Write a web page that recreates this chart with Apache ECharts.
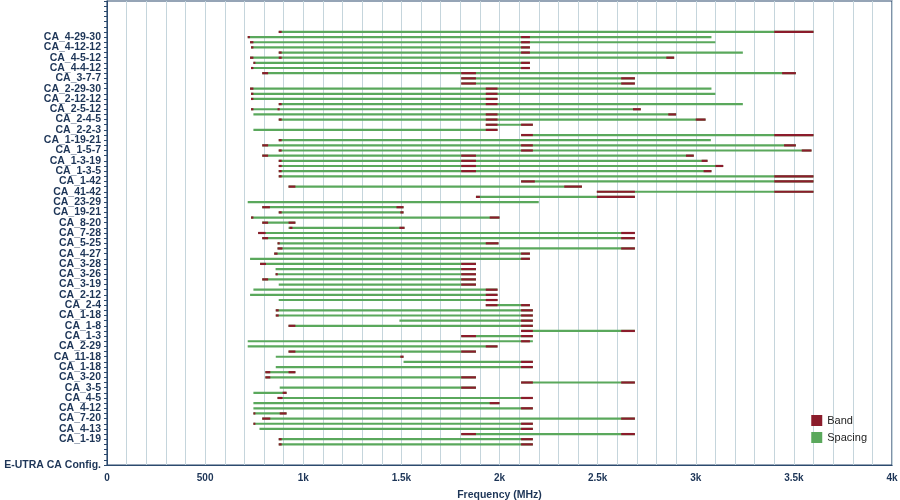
<!DOCTYPE html>
<html><head><meta charset="utf-8">
<script src="https://cdn.jsdelivr.net/npm/echarts@6/dist/echarts.min.js"></script>
<style>html,body{margin:0;padding:0;background:#fff}#c{width:900px;height:500px}</style>
</head><body><div id="c"></div>
<script>
const configLabels = ["CA_4-29-30","CA_4-12-12","CA_4-5-12","CA_4-4-12","CA_3-7-7","CA_2-29-30","CA_2-12-12","CA_2-5-12","CA_2-4-5","CA_2-2-3",
"CA_1-19-21","CA_1-5-7","CA_1-3-19","CA_1-3-5","CA_1-42","CA_41-42","CA_23-29","CA_19-21","CA_8-20","CA_7-28",
"CA_5-25","CA_4-27","CA_3-28","CA_3-26","CA_3-19","CA_2-12","CA_2-4","CA_1-18","CA_1-8","CA_1-3",
"CA_2-29","CA_11-18","CA_1-18","CA_3-20","CA_3-5","CA_4-5","CA_4-12","CA_7-20","CA_4-13","CA_1-19"];
const bottomLabel = "E-UTRA CA Config.";
const xTickLabels = {0:"0",500:"500",1000:"1k",1500:"1.5k",2000:"2k",2500:"2.5k",3000:"3k",3500:"3.5k",4000:"4k"};
// spacing span of each line (MHz), top to bottom
const lineSpans = [
[875,3600],[717,3080],[729,3100],[734,2155],[875,3240],[729,2890],[746,2155],[734,2155],[791,3510],[1805,2690],
[1805,2690],[729,3080],[734,3100],[734,1990],[875,3240],[734,2720],[746,2900],[875,3050],[1930,2170],[746,1990],
[2110,3600],[875,3077],[791,3510],[875,3590],[791,2990],[875,3060],[875,3140],[875,3080],[875,3600],[2110,3600],
[925,2420],[2496,3600],[1880,2690],[717,2200],[791,1511],[875,1511],[734,2000],[791,960],[925,1516],[770,2690],
[791,2690],[869,1995],[869,2690],[852,2155],[729,2155],[780,1880],[859,1880],[859,1880],[791,1880],[875,1880],
[746,1990],[729,1990],[875,1990],[1930,2155],[860,2170],[860,2170],[1490,2170],[925,2170],[2110,2690],[1805,2170],
[717,2170],[717,1990],[925,1880],[860,1511],[1511,2170],[860,2170],[807,960],[807,1880],[2110,2690],[880,1880],
[746,915],[869,2170],[746,2000],[746,2170],[746,915],[791,2690],[746,2170],[777,2170],[1805,2690],[875,2170],[875,2170]];
// operating band segments (MHz) drawn on each line
const lineBands = [
[[875,890],[3400,3600]],[[717,728],[2110,2155]],[[729,746],[2110,2155]],[[734,746],[2110,2155]],[[875,890],[2110,2155]],
[[729,746],[875,890],[2850,2890]],[[746,756],[2110,2155]],[[734,746],[2110,2155]],[[791,821],[1805,1880],[3440,3510]],[[1805,1880],[2620,2690]],
[[1805,1880],[2620,2690]],[[729,746],[1930,1990]],[[734,746],[1930,1990]],[[734,746],[1930,1990]],[[875,890],[1930,1990]],
[[734,746],[869,880],[2680,2720]],[[1930,1990],[2860,2900]],[[875,890],[1930,1990],[3000,3050]],[[1930,1990],[2110,2170]],[[1930,1990]],
[[2110,2170],[3400,3600]],[[875,890]],[[791,821],[2110,2170],[3450,3510]],[[875,890],[2110,2170],[3540,3590]],[[791,821],[1805,1880],[2950,2990]],
[[875,890],[1805,1880],[3030,3060]],[[875,890],[1805,1880],[3100,3140]],[[875,890],[1805,1880],[3040,3080]],[[875,890],[3400,3600]],[[2110,2180],[3400,3600]],
[[925,960],[2330,2420]],[[2496,2690],[3400,3600]],[[1880,1900],[2496,2690]],[],[[791,830],[1475,1511]],
[[875,890],[1495,1511]],[[734,746],[1950,2000]],[[791,821],[925,960]],[[930,945],[1490,1516]],[[770,808],[2620,2690]],
[[791,821],[2620,2690]],[[869,880],[1930,1995]],[[869,894],[2620,2690]],[[852,869],[2110,2155]],[[2110,2155]],
[[780,810],[1805,1880]],[[1805,1880]],[[859,870],[1805,1880]],[[791,821],[1805,1880]],[[1805,1880]],
[[1930,1990]],[[1930,1990]],[[1930,1990]],[[1930,1990],[2110,2155]],[[860,875],[2110,2170]],
[[860,875],[2110,2170]],[[2110,2170]],[[925,960],[2110,2170]],[[2110,2170],[2620,2690]],[[1805,1880],[2110,2170]],
[[2110,2155]],[[1930,1990]],[[925,960],[1805,1880]],[[1495,1511]],[[2110,2170]],
[[2110,2170]],[[807,832],[925,960]],[[807,832],[1805,1880]],[[2110,2170],[2620,2690]],[[1805,1880]],
[[895,915]],[[869,894],[2110,2170]],[[1950,2000]],[[2110,2170]],[[746,756],[880,915]],
[[791,832],[2620,2690]],[[746,756],[2110,2170]],[[2110,2170]],[[1805,1880],[2620,2690]],[[875,890],[2110,2170]],[[875,890],[2110,2170]]];

const spacingData = lineSpans.map((s,i)=>[i,s[0],s[1]]);
const bandData = [];
lineBands.forEach((bs,i)=>bs.forEach(b=>bandData.push([i,b[0],b[1]])));

function segRender(h){
  return function(params, api){
    const row = api.value(0);
    const a = api.coord([api.value(1), row]);
    const b = api.coord([api.value(2), row]);
    return {type:'rect', shape:{x:a[0], y:a[1]-h/2, width:Math.max(b[0]-a[0],1), height:h},
      style:{fill:api.visual('color')}};
  };
}
const navy = '#1d3557';
const chart = echarts.init(document.getElementById('c'));
chart.setOption({
  animation:false,
  grid:{left:107, right:8, top:1, bottom:35, show:true, borderColor:'#2c4a6e', borderWidth:1.2,
    containLabel:false, outerBoundsMode:'none'},
  legend:{orient:'vertical', right:28, top:410, itemWidth:11, itemHeight:11, itemGap:6,
    icon:'rect', textStyle:{fontSize:11, color:'#222', fontFamily:'Liberation Sans'},
    data:['Band','Spacing']},
  xAxis:{type:'value', min:0, max:4000, interval:500,
    name:'Frequency (MHz)', nameLocation:'middle', nameGap:25,
    nameTextStyle:{fontSize:10.5, fontWeight:'bold', color:navy, fontFamily:'Liberation Sans'},
    axisLine:{onZero:false, lineStyle:{color:'#2c4a6e'}}, axisTick:{show:false},
    axisLabel:{formatter:v=>xTickLabels[v]!==undefined?xTickLabels[v]:'', fontSize:10, fontWeight:'bold', color:navy, fontFamily:'Liberation Sans', margin:8},
    splitLine:{show:true, lineStyle:{color:'#c5d5dc', width:1}},
    minorTick:{show:false, splitNumber:5},
    minorSplitLine:{show:true, lineStyle:{color:'#c5d5dc', width:1}}},
  yAxis:{type:'value', inverse:true, min:-6, max:84, interval:1,
    name:'E-UTRA Channel Designation', nameLocation:'middle', nameGap:89, nameRotate:90,
    nameTextStyle:{fontSize:10.5, fontWeight:'bold', color:navy, fontFamily:'Liberation Sans'},
    axisLine:{show:true, onZero:false, lineStyle:{color:'#2c4a6e'}},
    axisTick:{show:true, length:3, lineStyle:{color:'#2c4a6e'}},
    splitLine:{show:false},
    axisLabel:{interval:0, fontSize:10.5, fontWeight:'bold', color:navy, fontFamily:'Liberation Sans', margin:6,
      formatter:v=>{ if(v===84) return bottomLabel; if(v>=1 && v<=79 && v%2===1) return configLabels[(v-1)/2]; return ''; }}},
  series:[
    {name:'Spacing', type:'custom', renderItem:segRender(2.2), itemStyle:{color:'#5aa85c'},
     encode:{x:[1,2], y:0}, data:spacingData, z:2},
    {name:'Band', type:'custom', renderItem:segRender(2.2), itemStyle:{color:'#8b1c2b'},
     encode:{x:[1,2], y:0}, data:bandData, z:3}
  ]
});
</script></body></html>
